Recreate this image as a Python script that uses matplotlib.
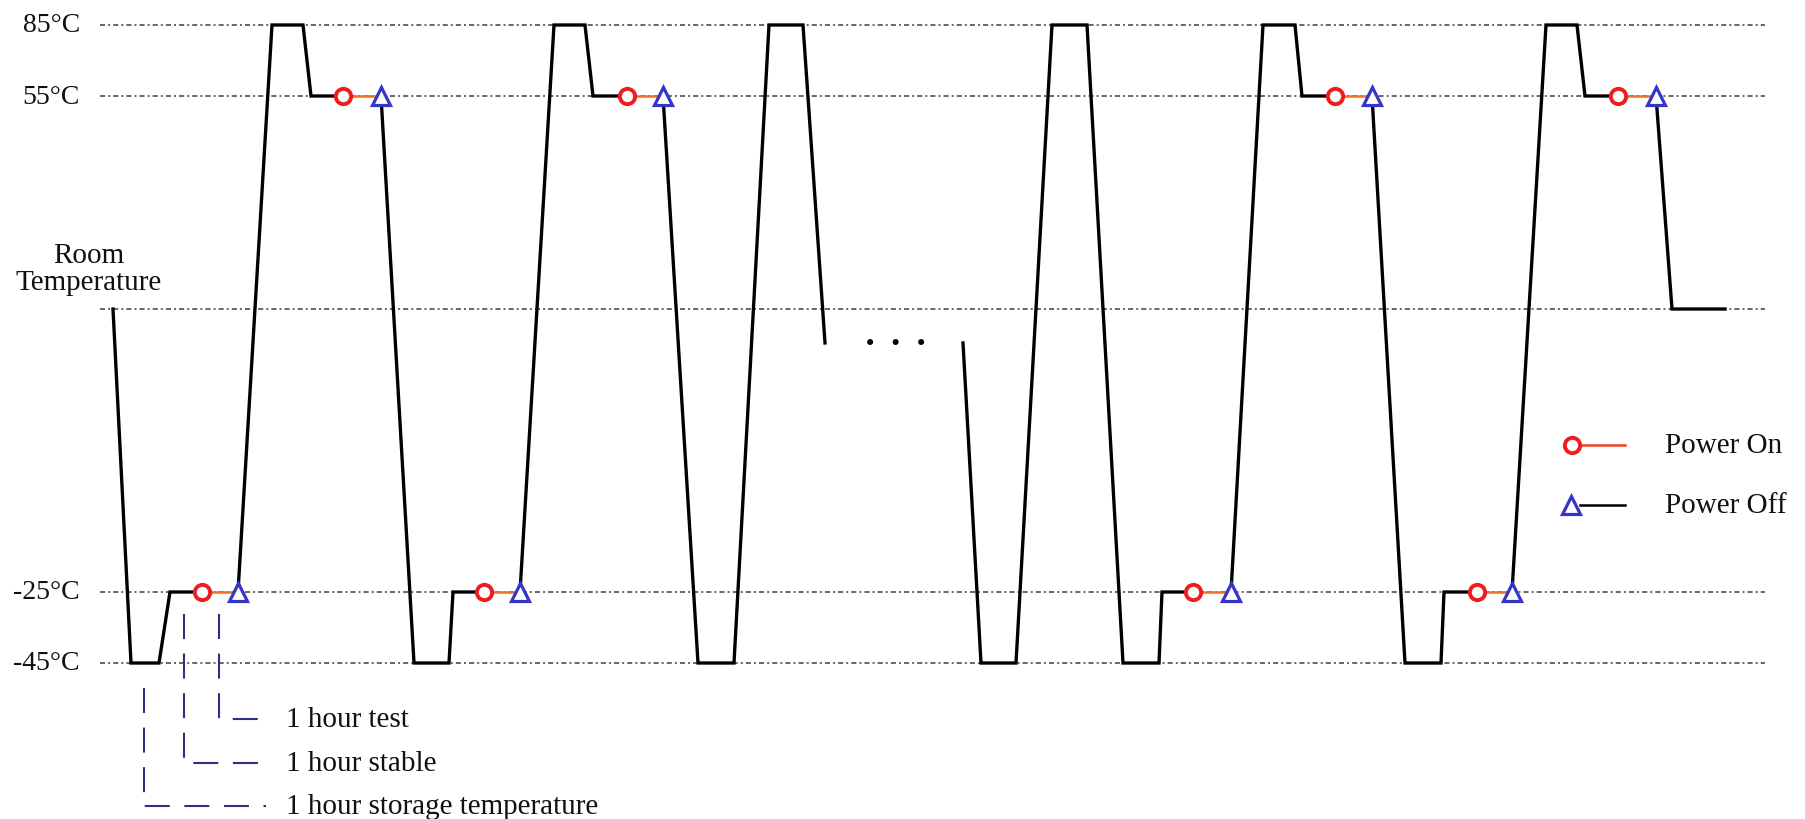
import numpy as np
import matplotlib
matplotlib.use("Agg")
import matplotlib.pyplot as plt
from matplotlib.transforms import blended_transform_factory

plt.rcParams["font.family"] = ["Liberation Serif", "DejaVu Serif"]

# ---- temperature levels (deg C) ----
ROOM_TEMP = 25
LEVEL_TEMPS = [85, 55, ROOM_TEMP, -25, -45]
LEVEL_LABELS = ["85°C", "55°C", None, "-25°C", "-45°C"]
BREAK_TEMP = 19          # where the trace is cut for the "..." gap

# ---- temperature profile (time in schematic units, temperature in deg C) ----
part1_time = [113, 131, 159, 170, 202, 238, 272, 303, 311, 343, 381, 414, 449, 453,
              484, 520, 554, 585, 593, 627, 663, 698, 734, 769, 803, 825]
part1_temp = [ROOM_TEMP, -45, -45, -25, -25, -25, 85, 85, 55, 55, 55, -45, -45, -25,
              -25, -25, 85, 85, 55, 55, 55, -45, -45, 85, 85, BREAK_TEMP]

part2_time = [963, 981, 1016, 1052, 1087, 1123, 1159, 1162, 1193, 1231, 1263, 1295, 1302,
              1335, 1372, 1405, 1441, 1444, 1477, 1512, 1546, 1577, 1585, 1618, 1656,
              1672, 1725]
part2_temp = [BREAK_TEMP, -45, -45, 85, 85, -45, -45, -25, -25, -25, 85, 85, 55,
              55, 55, -45, -45, -25, -25, -25, 85, 85, 55, 55, 55,
              ROOM_TEMP, ROOM_TEMP]

# ---- power events ----
power_on_time = [202, 343, 484, 627, 1193, 1335, 1477, 1618]
power_off_time = [238, 381, 520, 663, 1231, 1372, 1512, 1656]
power_temp = [-25, 55, -25, 55, -25, 55, -25, 55]

# ---- annotation texts ----
note_labels = ["1 hour test", "1 hour stable", "1 hour storage temperature"]
legend_labels = ["Power On", "Power Off"]

# ---- schematic (non-linear) vertical scale ----
anchor_t = np.array([-45, -25, 25, 55, 85], dtype=float)
anchor_h = np.array([156, 227, 510, 723, 794], dtype=float)
lo_slope = (anchor_h[1] - anchor_h[0]) / (anchor_t[1] - anchor_t[0])
hi_slope = (anchor_h[-1] - anchor_h[-2]) / (anchor_t[-1] - anchor_t[-2])


def fwd(t):
    t = np.asarray(t, dtype=float)
    h = np.interp(t, anchor_t, anchor_h)
    h = np.where(t < anchor_t[0], anchor_h[0] + (t - anchor_t[0]) * lo_slope, h)
    h = np.where(t > anchor_t[-1], anchor_h[-1] + (t - anchor_t[-1]) * hi_slope, h)
    return h


def inv(h):
    h = np.asarray(h, dtype=float)
    t = np.interp(h, anchor_h, anchor_t)
    t = np.where(h < anchor_h[0], anchor_t[0] + (h - anchor_h[0]) / lo_slope, t)
    t = np.where(h > anchor_h[-1], anchor_t[-1] + (h - anchor_h[-1]) / hi_slope, t)
    return t


W, H = 1806, 820
fig = plt.figure(figsize=(W / 100, H / 100), dpi=100)
ax = fig.add_axes([0, 0, 1, 1])
ax.set_yscale("function", functions=(fwd, inv))
ax.set_xlim(0, W)
ax.set_ylim(float(inv(0)), float(inv(H)))
ax.axis("off")

yfrac = blended_transform_factory(ax.transData, ax.transAxes)

# reference levels
ref_style = dict(color="#5a5a5a", lw=1.3, linestyle=(0, (2.8, 1.7, 1.1, 1.7)), zorder=1)
for temp in LEVEL_TEMPS:
    ax.plot([100, 1765], [temp, temp], **ref_style)

for temp, lab in zip(LEVEL_TEMPS, LEVEL_LABELS):
    if lab:
        ax.text(80, temp, lab, ha="right", va="center", fontsize=20, color="#111111")
ax.text(89, 0.671, "Room\nTemperature", transform=yfrac, ha="center", va="center",
        fontsize=21, linespacing=1.03, color="#111111")

# temperature profile, black outside the test windows
time_all = part1_time + [np.nan] + part2_time
temp_all = part1_temp + [np.nan] + part2_temp
bt, bT = [], []
for i, (x, y) in enumerate(zip(time_all, temp_all)):
    bt.append(x)
    bT.append(y)
    if x in power_on_time and i + 1 < len(time_all) and time_all[i + 1] in power_off_time:
        bt.append(np.nan)
        bT.append(np.nan)
ax.plot(bt, bT, color="black", lw=2.4, solid_joinstyle="miter", zorder=3)

# test windows
for t_on, t_off, temp in zip(power_on_time, power_off_time, power_temp):
    ax.plot([t_on, t_off], [temp, temp], color="#f07028", lw=1.8, zorder=3)
ax.plot(power_on_time, power_temp, "o", ms=11, mew=2.8, mec="#ee1c1c", mfc="white",
        ls="none", zorder=5)
ax.plot(power_off_time, power_temp, "^", ms=12.5, mew=2.3, mec="#3535c8", mfc="white",
        ls="none", zorder=5)

# gap marker
ax.text(896, BREAK_TEMP, "\u2022  \u2022  \u2022", ha="center", va="center",
        fontsize=15, family="DejaVu Sans", color="black")

# legend
ax.plot([1580, 1625], [0.456, 0.456], transform=yfrac, color="#f04020", lw=1.8, zorder=3)
ax.plot([1572], [0.456], "o", transform=yfrac, ms=11, mew=2.8, mec="#ee1c1c",
        mfc="white", zorder=5)
ax.plot([1580, 1625], [0.383, 0.383], transform=yfrac, color="black", lw=1.8, zorder=3)
ax.plot([1571], [0.383], "^", transform=yfrac, ms=12.5, mew=2.3, mec="#3535c8",
        mfc="white", zorder=5)
ax.text(1665, 0.456, legend_labels[0], transform=yfrac, ha="left", va="center",
        fontsize=21, color="#111111")
ax.text(1665, 0.383, legend_labels[1], transform=yfrac, ha="left", va="center",
        fontsize=21, color="#111111")

# duration call-outs
note_style = dict(color="#2b2f86", lw=1.5, linestyle=(0, (12, 7)), transform=yfrac)
note_x = [219, 184, 144]
note_top = [0.250, 0.250, 0.160]
note_y = [0.122, 0.068, 0.016]
for x, top, y, lab in zip(note_x, note_top, note_y, note_labels):
    ax.plot([x, x, 266], [top, y, y], **note_style)
    ax.text(286, y, lab, transform=yfrac, ha="left", va="center", fontsize=21,
            color="#111111")

fig.savefig("out.png", dpi=100, facecolor="white")
